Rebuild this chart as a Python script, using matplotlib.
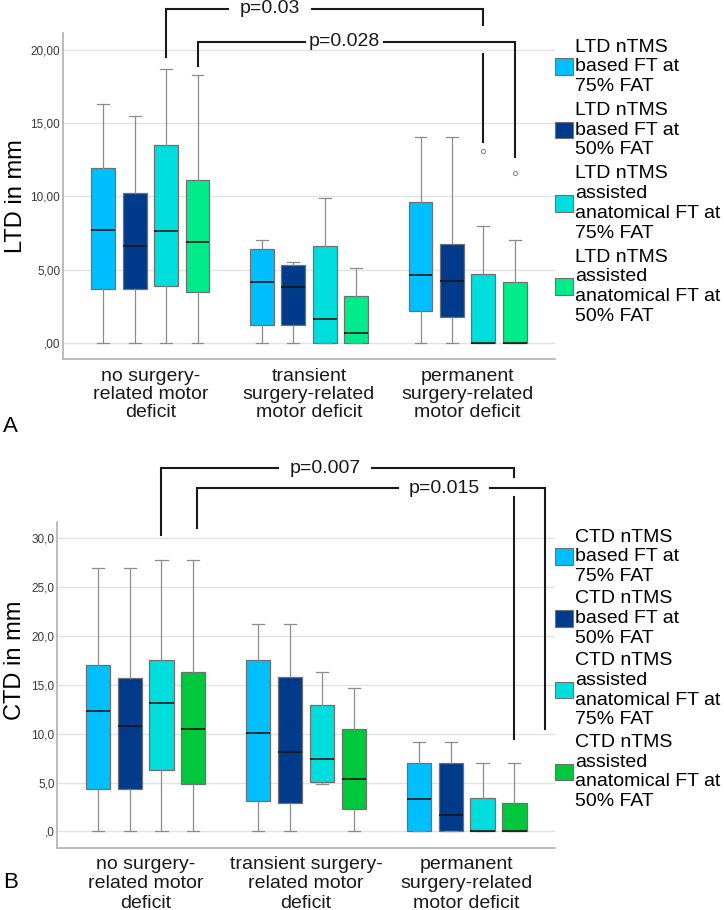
import matplotlib
matplotlib.use('Agg')
from matplotlib import pyplot as plt
from matplotlib.patches import Patch

plt.rcParams['font.family'] = ['Liberation Sans', 'DejaVu Sans']

# groups (x categories)
groups_a = ['no surgery-\nrelated motor\ndeficit',
            'transient\nsurgery-related\nmotor deficit',
            'permanent\nsurgery-related\nmotor deficit']
groups_b = ['no surgery-\nrelated motor\ndeficit',
            'transient surgery-\nrelated motor\ndeficit',
            'permanent\nsurgery-related\nmotor deficit']

# panel A, LTD: one row per series, one value per group
ltd_series = ['LTD nTMS\nbased FT at\n75% FAT',
              'LTD nTMS\nbased FT at\n50% FAT',
              'LTD nTMS\nassisted\nanatomical FT at\n75% FAT',
              'LTD nTMS\nassisted\nanatomical FT at\n50% FAT']
ltd_whislo = [[0, 0, 0], [0, 0, 0], [0, 0, 0], [0, 0, 0]]
ltd_q1 = [[3.67, 1.27, 2.20], [3.67, 1.27, 1.81], [3.92, 0, 0], [3.51, 0, 0]]
ltd_med = [[7.71, 4.15, 4.63], [6.60, 3.83, 4.26], [7.64, 1.66, 0], [6.89, 0.68, 0]]
ltd_q3 = [[11.95, 6.42, 9.59], [10.20, 5.31, 6.78], [13.49, 6.60, 4.69], [11.09, 3.22, 4.20]]
ltd_whishi = [[16.30, 7.03, 14.04], [15.51, 5.51, 14.04], [18.71, 9.91, 8.00], [18.30, 5.10, 7.03]]
ltd_fliers = [[[], [], []], [[], [], []], [[], [], [13.11]], [[], [], [11.61]]]

# panel B, CTD
ctd_series = ['CTD nTMS\nbased FT at\n75% FAT',
              'CTD nTMS\nbased FT at\n50% FAT',
              'CTD nTMS\nassisted\nanatomical FT at\n75% FAT',
              'CTD nTMS\nassisted\nanatomical FT at\n50% FAT']
ctd_whislo = [[0, 0, 0], [0, 0, 0], [0, 4.87, 0], [0, 0, 0]]
ctd_q1 = [[4.36, 3.06, 0], [4.36, 2.93, 0], [6.30, 5.04, 0], [4.87, 2.25, 0]]
ctd_med = [[12.36, 10.04, 3.34], [10.79, 8.10, 1.70], [13.14, 7.42, 0], [10.49, 5.38, 0]]
ctd_q3 = [[17.06, 17.54, 6.95], [15.70, 15.76, 6.95], [17.54, 12.90, 3.40], [16.34, 10.45, 2.93]]
ctd_whishi = [[26.90, 21.18, 9.12], [26.90, 21.18, 9.12], [27.78, 16.28, 6.95], [27.78, 14.67, 6.95]]
ctd_fliers = [[[], [], []], [[], [], []], [[], [], []], [[], [], []]]

colors_a = ['#00BFFF', '#003A8A', '#00DDDD', '#00EB8A']
colors_b = ['#00BFFF', '#003A8A', '#00DDDD', '#00C83C']

# significance brackets: (x0, x1, y_top, y_left, y_right, text, text_x, half_gap, cross)
brackets_a = [(0.099, 2.099, 22.79, 19.5, 13.71, 'p=0.03', 0.752, 0.265, (21.66, 19.68)),
              (0.2975, 2.2975, 20.52, 18.88, 12.68, 'p=0.028', 1.224, 0.249, None)]
brackets_b = [(0.099, 2.2975, 37.11, 30.31, 9.47, 'p=0.007', 1.119, 0.291, (36.19, 34.15)),
              (0.32, 2.49, 35.07, 30.98, 10.49, 'p=0.015', 1.861, 0.286, None)]

offsets = [-0.2975, -0.099, 0.099, 0.2975]
box_w = 0.151


def boxes(ax, whislo, q1, med, q3, whishi, fliers, colors):
    for s in range(4):
        stats = []
        pos = []
        for g in range(3):
            stats.append(dict(whislo=whislo[s][g], q1=q1[s][g], med=med[s][g],
                              q3=q3[s][g], whishi=whishi[s][g], fliers=fliers[s][g]))
            pos.append(g + offsets[s])
        ax.bxp(stats, positions=pos, widths=box_w, capwidths=box_w / 2,
               patch_artist=True, manage_ticks=False,
               boxprops=dict(facecolor=colors[s], edgecolor='#707070', linewidth=0.9),
               medianprops=dict(color='#151515', linewidth=1.2),
               whiskerprops=dict(color='#8c8c8c', linewidth=0.9),
               capprops=dict(color='#8c8c8c', linewidth=0.9),
               flierprops=dict(marker='o', markersize=3, markerfacecolor='none',
                               markeredgecolor='#8c8c8c', markeredgewidth=0.8))


def bracket(ax, x0, x1, ytop, y0, y1, text, tx, hg, cross):
    kw = dict(color='#1a1a1a', linewidth=1.5, clip_on=False, solid_joinstyle='miter')
    ax.plot([x0, x0, tx - hg], [y0, ytop, ytop], **kw)
    if cross is None:
        ax.plot([tx + hg, x1, x1], [ytop, ytop, y1], **kw)
    else:
        ax.plot([tx + hg, x1, x1], [ytop, ytop, cross[0]], **kw)
        ax.plot([x1, x1], [cross[1], y1], **kw)
    ax.text(tx, ytop, text, ha='center', va='center', fontsize=14, color='#1a1a1a')


def style(ax, ylim, yticks, ylabels, groups, ylabel, label_xy, lsp):
    ax.set_xlim(-0.55, 2.55)
    ax.set_ylim(*ylim)
    ax.set_yticks(yticks, ylabels)
    ax.set_xticks(range(3), groups)
    ax.tick_params(axis='y', length=0, labelsize=8.5, labelcolor='#3a3a3a', pad=2)
    ax.tick_params(axis='x', length=0, labelsize=14, labelcolor='#1a1a1a', pad=6)
    for t in ax.get_xticklabels():
        t.set_linespacing(lsp)
    ax.grid(axis='y', color='#e2e2e2', linewidth=1)
    ax.set_axisbelow(True)
    for sp in ['top', 'right']:
        ax.spines[sp].set_visible(False)
    for sp in ['left', 'bottom']:
        ax.spines[sp].set_color('#b0b0b0')
        ax.spines[sp].set_linewidth(1.2)
    ax.set_ylabel(ylabel, fontsize=17, va='center')
    ax.yaxis.set_label_coords(*label_xy)


fig = plt.figure(figsize=(7.24, 9.10), dpi=100)
ax_a = fig.add_axes([0.0870, 0.6052, 0.6796, 0.3582])
ax_b = fig.add_axes([0.0791, 0.0685, 0.6874, 0.3582])

boxes(ax_a, ltd_whislo, ltd_q1, ltd_med, ltd_q3, ltd_whishi, ltd_fliers, colors_a)
boxes(ax_b, ctd_whislo, ctd_q1, ctd_med, ctd_q3, ctd_whishi, ctd_fliers, colors_b)

style(ax_a, (-1.09, 21.11), [0, 5, 10, 15, 20], [',00', '5,00', '10,00', '15,00', '20,00'],
      groups_a, 'LTD in mm', (-0.0955, 0.50), 1.1)
style(ax_b, (-1.66, 31.66), [0, 5, 10, 15, 20, 25, 30], [',0', '5,0', '10,0', '15,0', '20,0', '25,0', '30,0'],
      groups_b, 'CTD in mm', (-0.085, 0.576), 1.18)

for b in brackets_a:
    bracket(ax_a, *b)
for b in brackets_b:
    bracket(ax_b, *b)

for ax, names, cols, top, lspace in [(ax_a, ltd_series, colors_a, 1 - 38.5 / 910, 0.36),
                                      (ax_b, ctd_series, colors_b, 1 - 528.5 / 910, 0.28)]:
    handles = [Patch(facecolor=c, edgecolor='#707070', linewidth=0.8) for c in cols]
    leg = fig.legend(handles, names, loc='upper left', bbox_to_anchor=(555 / 724, top),
                     frameon=False, fontsize=14, borderpad=0, borderaxespad=0,
                     handlelength=0.93, handleheight=0.93, handletextpad=0.1,
                     labelspacing=lspace)
    for t in leg.get_texts():
        t.set_linespacing(1.21)

fig.text(10 / 724, 1 - 426 / 910, 'A', fontsize=16, ha='center', va='center')
fig.text(11 / 724, 1 - 882 / 910, 'B', fontsize=16, ha='center', va='center')

fig.savefig('out.png', dpi=100)
